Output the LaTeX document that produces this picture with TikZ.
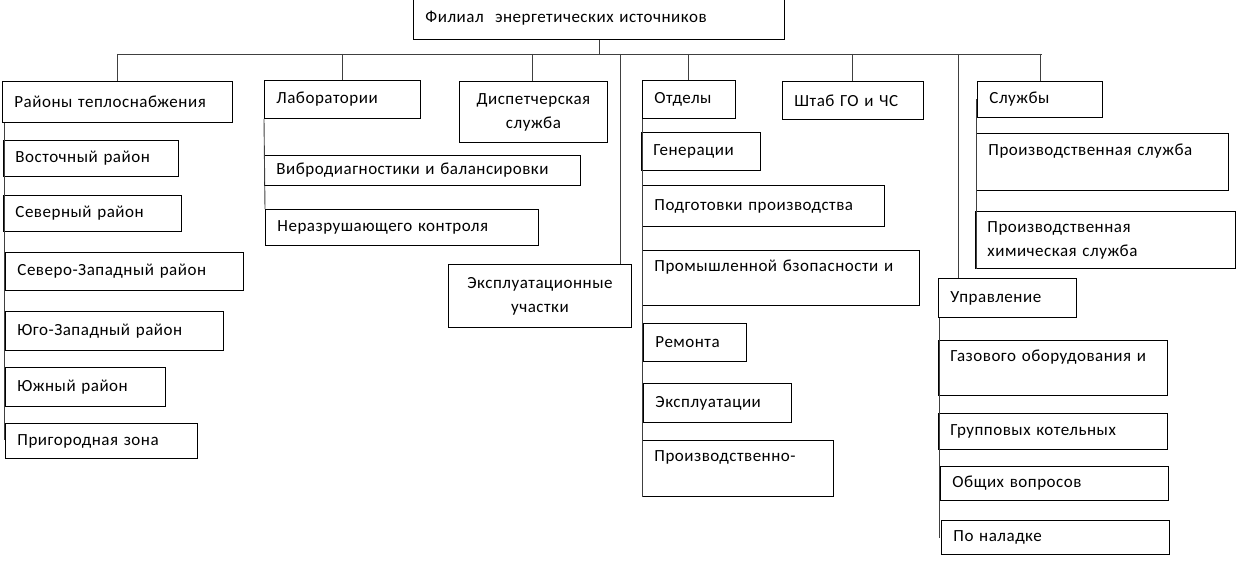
\documentclass[tikz,border=0pt]{standalone}
\usepackage{fontspec}
\setmainfont{Carlito}[LetterSpace=3]

\begin{document}
\begin{tikzpicture}[
    x=1pt, y=-1pt,
    box/.style={rectangle, draw, line width=0.9pt, anchor=north west, align=left, inner xsep=12pt, inner ysep=0pt, font=\fontsize{17}{24}\selectfont},
    cbox/.style={box, align=center},
    line/.style={draw=black!75, line width=0.9pt}
]
    \useasboundingbox (0,0) rectangle (1243,580);

    % Top
    \node[box, text width=347pt, minimum height=42pt] (root) at (413,-3) {Филиал\ \ энергетических источников};

    % Level 1
    \node[box, text width=206pt, minimum height=41pt] (rayony) at (2,81) {Районы теплоснабжения};
    \node[box, text width=132pt, minimum height=38pt] (lab) at (264,80) {Лаборатории};
    \node[cbox, text width=124pt, minimum height=61pt] (disp) at (459,81) {Диспетчерская\\служба};
    \node[cbox, text width=159pt, minimum height=63pt] (uchastki) at (448,264) {Эксплуатационные\\участки};
    \node[box, text width=69pt, minimum height=38pt] (otdely) at (642,80) {Отделы};
    \node[box, text width=117pt, minimum height=38pt] (shtab) at (782,81) {Штаб ГО и ЧС};
    \node[box, text width=101pt, minimum height=36pt] (sluzhby) at (977,81) {Службы};
    \node[box, text width=114pt, minimum height=39pt] (upravl) at (938,278) {Управление};

    % Rayony
    \node[box, text width=151pt, minimum height=36pt] (vostok) at (3,140) {Восточный район};
    \node[box, text width=154pt, minimum height=36pt] (sever) at (3,195) {Северный район};
    \node[box, text width=214pt, minimum height=38pt] (szapad) at (5,252) {Северо-Западный район};
    \node[box, text width=194pt, minimum height=39pt] (yuzapad) at (5,311) {Юго-Западный район};
    \node[box, text width=136pt, minimum height=39pt] (yug) at (5,367) {Южный район};
    \node[box, text width=168pt, minimum height=35pt] (prigorod) at (5,423) {Пригородная зона};

    % Laboratorii
    \node[box, text width=292pt, minimum height=30pt] (vibro) at (264,155) {Вибродиагностики и балансировки};
    \node[box, text width=249pt, minimum height=36pt] (nerazr) at (265,209) {Неразрушающего контроля};

    % Otdely
    \node[box, text width=95pt, minimum height=38pt] (gener) at (641,132) {Генерации};
    \node[box, text width=218pt, minimum height=41pt] (podgot) at (642,185) {Подготовки производства};
    \node[box, text width=253pt, minimum height=55pt] (prombez) at (642,250) {Промышленной бзопасности и\\\mbox{}};
    \node[box, text width=79pt, minimum height=38pt] (remont) at (643,323) {Ремонта};
    \node[box, text width=124pt, minimum height=39pt] (ekspl) at (643,383) {Эксплуатации};
    \node[box, text width=167pt, minimum height=56pt] (proizvto) at (642,440) {Производственно-\\\mbox{}};

    % Sluzhby
    \node[box, text width=228pt, minimum height=57pt] (prsluzh) at (976,133) {Производственная служба\\\mbox{}};
    \node[box, text width=236pt, minimum height=57pt] (himsluzh) at (975,211) {Производственная\\химическая служба};

    % Upravlenie
    \node[box, text width=205pt, minimum height=55pt] (gaz) at (938,340) {Газового оборудования и\\\mbox{}};
    \node[box, text width=205pt, minimum height=36pt] (grupp) at (938,413) {Групповых котельных};
    \node[box, text width=204pt, minimum height=34pt] (obshch) at (940,466) {Общих вопросов};
    \node[box, text width=204pt, minimum height=34pt] (naladka) at (941,520) {По наладке};

    % Bus
    \coordinate (busL) at (117,54);
    \coordinate (busR) at (1042,54);
    \draw[line] (busL) -- (busR);
    \draw[line] (root.south -| 599,0) -- (599,54);

    % Drops
    \draw[line] (117,54) -- (rayony.north -| 117,0);
    \draw[line] (342,54) -- (lab.north -| 342,0);
    \draw[line] (532,54) -- (disp.north -| 532,0);
    \draw[line] (620,54) -- (uchastki.north -| 620,0);
    \draw[line] (688,54) -- (otdely.north -| 688,0);
    \draw[line] (852,54) -- (shtab.north -| 852,0);
    \draw[line] (958,54) -- (upravl.north -| 958,0);
    \draw[line] (1040,54) -- (sluzhby.north -| 1040,0);

    % Spines
    \draw[line] (rayony.south west -| 4,0) -- (4,440);
    \draw[line] (lab.south west) -- (nerazr.north west);
    \draw[line] (otdely.south west) -- (proizvto.south west);
    \draw[line] (sluzhby.west -| 976,0) -- (himsluzh.south west -| 976,0);
    \draw[line] (upravl.south west -| 939,0) -- (939,538);
\end{tikzpicture}
\end{document}
